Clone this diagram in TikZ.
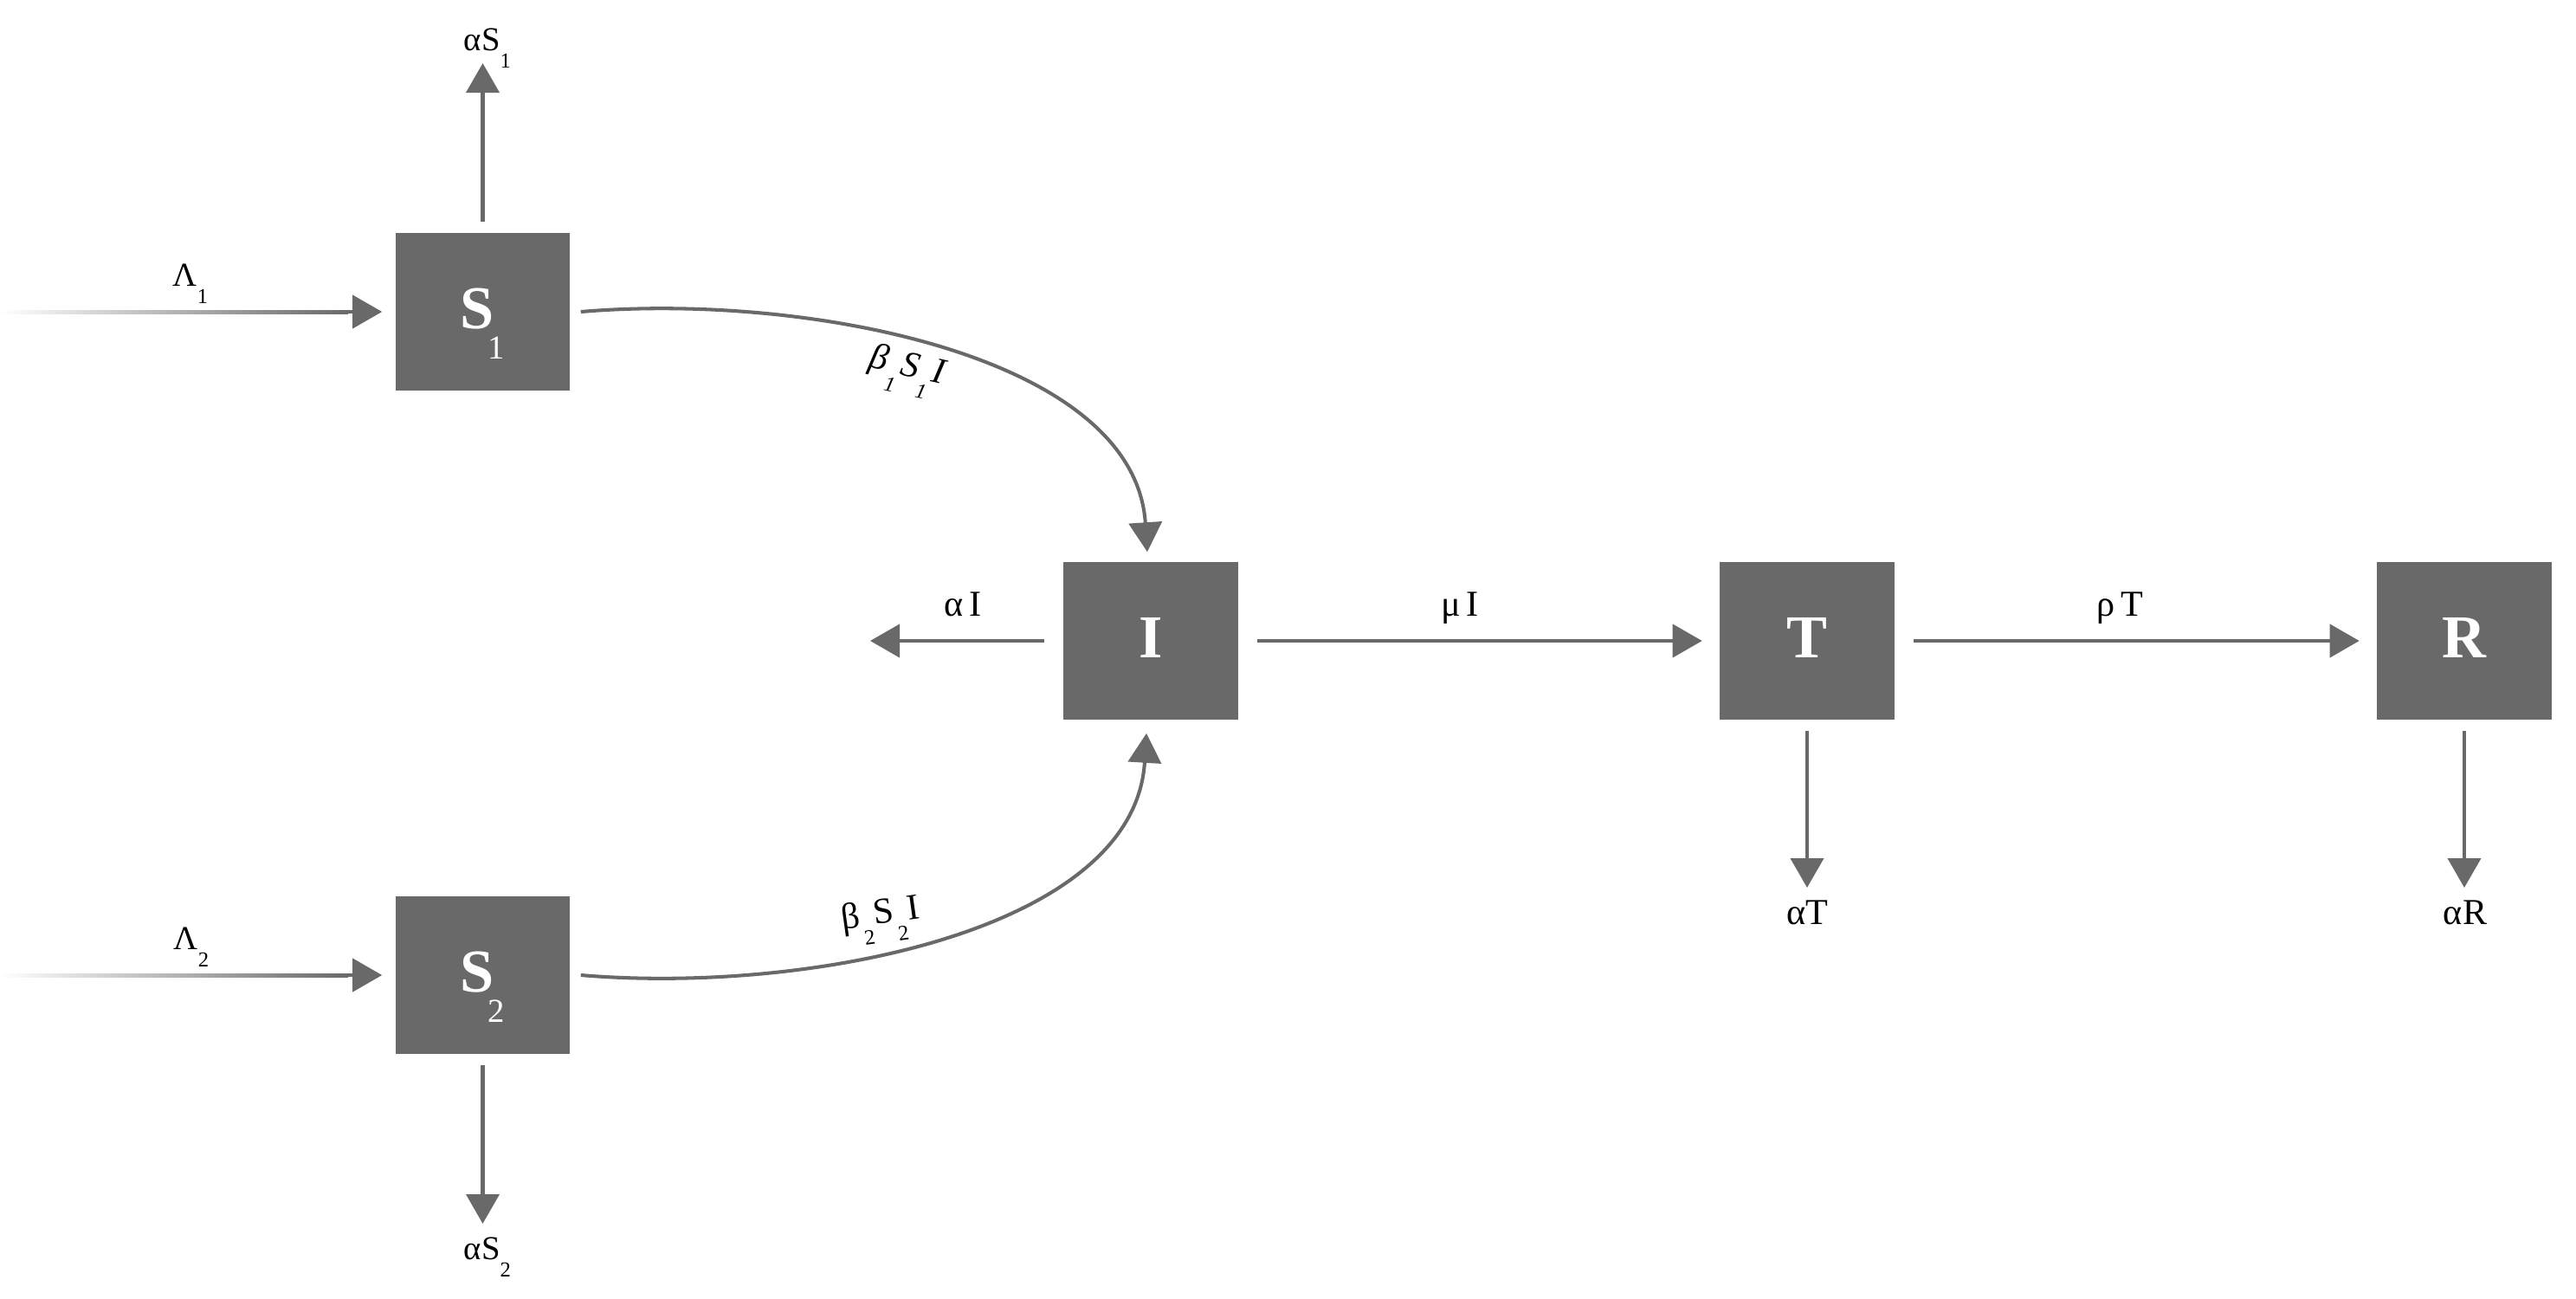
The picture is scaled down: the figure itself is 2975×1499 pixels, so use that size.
\documentclass[tikz,border=0pt]{standalone}
\usepackage{fontspec}
\setmainfont{Liberation Serif}
\usetikzlibrary{arrows.meta,calc}
\definecolor{boxgray}{RGB}{105,105,105}
\newcommand\dsub[1]{\raisebox{-0.52em}{\fontsize{7}{7}\selectfont #1}}
\newcommand\bsub[1]{\kern-2pt\raisebox{-10pt}{\fontsize{11}{11}\selectfont\mdseries #1}}
\begin{document}
\begin{tikzpicture}[x=0.01cm,y=-0.01cm,
  comp/.style={fill=boxgray, draw=none, minimum width=2.01cm, minimum height=1.82cm, inner sep=0pt},
  comptxt/.style={text=white, font=\fontsize{20}{24}\selectfont\bfseries, anchor=base, inner sep=0pt},
  flow/.style={draw=boxgray, line width=1.15pt, -{Triangle[length=0.34cm,width=0.38cm]}},
  lbl/.style={font=\fontsize{12}{14}\selectfont, anchor=base, inner sep=0pt},
  slbl/.style={font=\fontsize{11}{13}\selectfont, anchor=base, inner sep=0pt}]
\fill[white] (0,0) rectangle (2975,1499);
\useasboundingbox (0,0) rectangle (2975,1499);

% compartments
\node[comp] (S1) at (557.5,360) {};
\node[comp] (S2) at (557.5,1126) {};
\node[comp] (I) at (1329,740) {};
\node[comp] (T) at (2087,740) {};
\node[comp] (R) at (2846,740) {};
\node[comptxt] (S1t) at (557.5,379) {S\bsub{1}};
\node[comptxt] (S2t) at (557.5,1145) {S\bsub{2}};
\node[comptxt] (It) at (1329,759) {I};
\node[comptxt] (Tt) at (2087,759) {T};
\node[comptxt] (Rt) at (2846,759) {R};

% free ends
\coordinate (L1end) at (400,360);
\coordinate (L2end) at (400,1126);
\coordinate (aS1tip) at (557.5,73);
\coordinate (aS2tip) at (557.5,1413);
\coordinate (aItip) at (1005,740);
\coordinate (aTtip) at (2087,1025);
\coordinate (aRtip) at (2846,1025);

% recruitment arrows with fading shafts
\shade[left color=white, right color=boxgray] (0,358) rectangle (402,362);
\shade[left color=white, right color=boxgray] (0,1124) rectangle (402,1128);
\draw[flow, shorten >=0.15cm] (L1end) -- (S1.west);
\draw[flow, shorten >=0.15cm] (L2end) -- (S2.west);

% outflows
\draw[flow, shorten <=0.12cm] (S1.north) -- (aS1tip);
\draw[flow, shorten <=0.12cm] (S2.south) -- (aS2tip);
\draw[flow, shorten <=0.22cm] (I.west) -- (aItip);
\draw[flow, shorten <=0.12cm] (T.south) -- (aTtip);
\draw[flow, shorten <=0.12cm] (R.south) -- (aRtip);

% transitions
\draw[flow, shorten <=0.22cm, shorten >=0.2cm] (I.east) -- (T.west);
\draw[flow, shorten <=0.22cm, shorten >=0.2cm] (T.east) -- (R.west);

% infection curves
\draw[flow] ($(S1.east)+(12,0)$) .. controls (930,338) and (1310,410) .. ($(I.north)+(-4,-11)$);
\draw[flow] ($(S2.east)+(12,0)$) .. controls (930,1148) and (1310,1076) .. ($(I.south)+(-5,15)$);

% labels
\node[slbl] (lL1) at (220,330) {Λ\dsub{1}};
\node[slbl] (lL2) at (221,1096) {Λ\dsub{2}};
\node[slbl] (laS1) at (563,58) {αS\dsub{1}};
\node[slbl] (laS2) at (563,1454) {αS\dsub{2}};
\node[lbl, anchor=center, rotate=-13, font=\fontsize{12}{14}\selectfont\itshape] (lb1) at (1046,430) {β\kern0.5pt\dsub{1}\kern0.5pt S\kern0.5pt\dsub{1}\kern0.5pt I};
\node[lbl, anchor=center, rotate=8] (lb2) at (1018,1063) {β\kern0.5pt\dsub{2}\kern0.5pt S\kern0.5pt\dsub{2}\kern0.5pt I};
\node[lbl] (laI) at (1112,711) {α\,I};
\node[lbl] (lmI) at (1686,711) {μ\,I};
\node[lbl] (lrT) at (2448,711) {ρ\,T};
\node[lbl] (laT) at (2087,1067) {αT};
\node[lbl] (laR) at (2847,1067) {αR};
\end{tikzpicture}
\end{document}
